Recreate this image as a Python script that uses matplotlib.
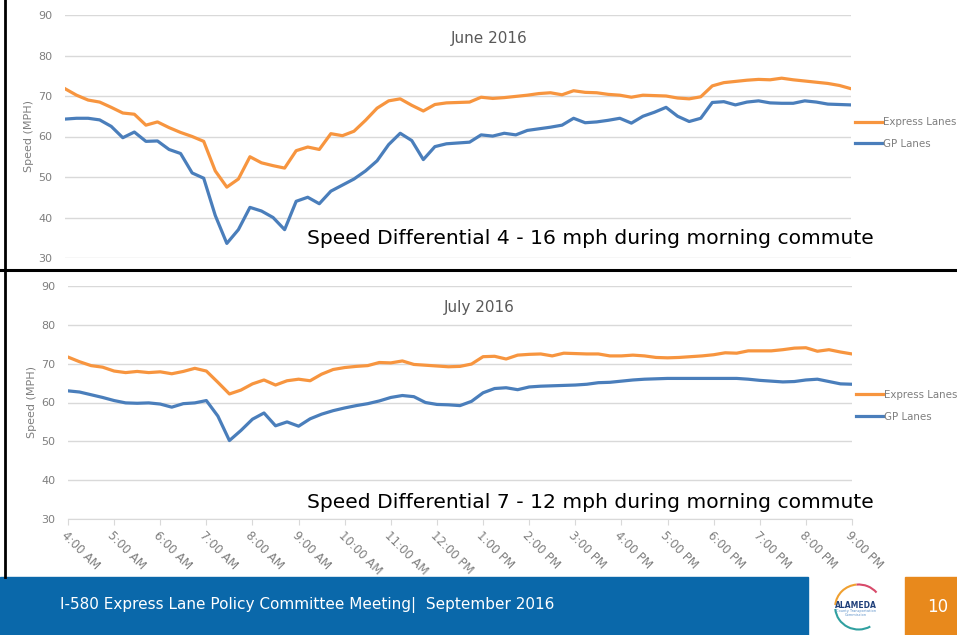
import numpy as np
import matplotlib
matplotlib.use("Agg")
import matplotlib.pyplot as plt
from matplotlib.patches import Rectangle, Arc
from matplotlib.lines import Line2D

# speeds read every 15 minutes, 4:00 AM .. 9:00 PM
express_june = [71.8, 70.2, 69.0, 68.5, 67.2, 65.8, 65.5, 62.8, 63.6, 62.2,
                61.0, 60.0, 58.8, 51.5, 47.5, 49.5, 55.0, 53.5, 52.8, 52.2,
                56.5, 57.4, 56.8, 60.7, 60.2, 61.3, 64.0, 67.0, 68.8, 69.3,
                67.7, 66.3, 67.9, 68.3, 68.4, 68.5, 69.7, 69.4, 69.6, 69.9,
                70.2, 70.6, 70.8, 70.3, 71.3, 70.9, 70.8, 70.4, 70.2, 69.7,
                70.2, 70.1, 70.0, 69.5, 69.3, 69.8, 72.5, 73.3, 73.6, 73.9,
                74.1, 74.0, 74.4, 74.0, 73.7, 73.4, 73.1, 72.6, 71.8]
gp_june = [64.3, 64.5, 64.5, 64.1, 62.5, 59.7, 61.1, 58.8, 58.9, 56.8,
           55.8, 51.0, 49.7, 40.5, 33.6, 37.0, 42.5, 41.6, 40.0, 37.0,
           44.0, 45.0, 43.4, 46.5, 48.0, 49.5, 51.5, 54.0, 58.0, 60.8,
           59.0, 54.3, 57.5, 58.2, 58.4, 58.6, 60.4, 60.1, 60.8, 60.4,
           61.5, 61.9, 62.3, 62.8, 64.5, 63.4, 63.6, 64.0, 64.5, 63.3,
           65.0, 66.0, 67.2, 65.0, 63.7, 64.5, 68.4, 68.6, 67.8, 68.5,
           68.8, 68.3, 68.2, 68.2, 68.8, 68.5, 68.0, 67.9, 67.8]
express_july = [71.7, 70.5, 69.5, 69.1, 68.1, 67.7, 68.0, 67.7, 67.9, 67.4,
                68.0, 68.8, 68.1, 65.2, 62.2, 63.2, 64.8, 65.8, 64.5, 65.6,
                66.0, 65.6, 67.3, 68.5, 69.0, 69.3, 69.5, 70.3, 70.2, 70.7,
                69.8, 69.6, 69.4, 69.2, 69.3, 69.9, 71.8, 71.9, 71.2, 72.2,
                72.4, 72.5, 72.0, 72.7, 72.6, 72.5, 72.5, 72.0, 72.0, 72.2,
                72.0, 71.6, 71.5, 71.6, 71.8, 72.0, 72.3, 72.8, 72.7, 73.3,
                73.3, 73.3, 73.6, 74.0, 74.1, 73.2, 73.6, 73.0, 72.5]
gp_july = [63.0, 62.7, 62.0, 61.3, 60.5, 59.9, 59.8, 59.9, 59.6, 58.8,
           59.7, 59.9, 60.5, 56.5, 50.2, 52.8, 55.7, 57.3, 54.0, 55.0,
           53.9, 55.8, 57.0, 57.9, 58.6, 59.2, 59.7, 60.4, 61.3, 61.8,
           61.5, 60.0, 59.5, 59.4, 59.2, 60.3, 62.5, 63.6, 63.8, 63.3,
           64.0, 64.2, 64.3, 64.4, 64.5, 64.7, 65.1, 65.2, 65.5, 65.8,
           66.0, 66.1, 66.2, 66.2, 66.2, 66.2, 66.2, 66.2, 66.2, 66.0,
           65.7, 65.5, 65.3, 65.4, 65.8, 66.0, 65.4, 64.8, 64.7]

hour_labels = ["4:00 AM", "5:00 AM", "6:00 AM", "7:00 AM", "8:00 AM", "9:00 AM",
               "10:00 AM", "11:00 AM", "12:00 PM", "1:00 PM", "2:00 PM", "3:00 PM",
               "4:00 PM", "5:00 PM", "6:00 PM", "7:00 PM", "8:00 PM", "9:00 PM"]

ORANGE = "#f7953f"
BLUE = "#4a7ebb"
GRID = "#d9d9d9"
TXT = "#7f7f7f"

fig = plt.figure(figsize=(9.57, 6.35), dpi=100)
W, H = 957.0, 635.0


def px_axes(l, t, r, b):
    return fig.add_axes([l / W, 1 - b / H, (r - l) / W, (b - t) / H])


def draw_panel(ax, express, gp, show_x, leg_y):
    x = 4 + np.arange(len(express)) / 4.0
    ax.plot(x, express, color=ORANGE, lw=2.3, solid_joinstyle="round", label="Express Lanes")
    ax.plot(x, gp, color=BLUE, lw=2.3, solid_joinstyle="round", label="GP Lanes")
    ax.set_xlim(4, 21)
    ax.set_ylim(30, 90)
    ax.set_yticks(range(30, 91, 10))
    ax.grid(axis="y", color=GRID, lw=1)
    ax.set_axisbelow(True)
    for s in ax.spines.values():
        s.set_visible(False)
    ax.tick_params(axis="y", length=0, pad=9, labelsize=8, labelcolor=TXT)
    ax.set_ylabel("Speed (MPH)", fontsize=8, color=TXT)
    ax.yaxis.set_label_coords(-0.039, 0.5)
    if show_x:
        ax.spines["bottom"].set_visible(True)
        ax.spines["bottom"].set_color(GRID)
        ax.set_xticks(range(4, 22))
        ax.set_xticklabels(hour_labels, rotation=-45, ha="left", va="top",
                           rotation_mode="anchor")
        ax.tick_params(axis="x", length=4, color=GRID, labelsize=8.5, labelcolor=TXT, pad=3)
    else:
        ax.set_xticks([])
    ax.legend(loc="center left", bbox_to_anchor=(1.005, leg_y), frameon=False,
              fontsize=7.4, labelcolor=TXT, handlelength=2.6, handletextpad=0.15,
              labelspacing=1.15, borderpad=0, borderaxespad=0)
    return ax


ax1 = px_axes(65, 15, 851, 258)
draw_panel(ax1, express_june, gp_june, False, 0.514)
ax2 = px_axes(68, 286, 852, 519)
draw_panel(ax2, express_july, gp_july, True, 0.485)

fig.text(489 / W, 1 - 38 / H, "June 2016", fontsize=11, color="#595959", ha="center", va="center")
fig.text(479 / W, 1 - 308 / H, "July 2016", fontsize=11, color="#595959", ha="center", va="center")

fig.text(307 / W, 1 - 238 / H, "Speed Differential 4 - 16 mph during morning commute",
         fontsize=14.6, color="black", va="center", ha="left")
fig.text(307 / W, 1 - 502 / H, "Speed Differential 7 - 12 mph during morning commute",
         fontsize=14.6, color="black", va="center", ha="left")

# slide frame lines
fig.add_artist(Line2D([5 / W, 5 / W], [1, 1 - 577 / H], color="black", lw=2))
fig.add_artist(Line2D([0, 1], [1 - 270 / H, 1 - 270 / H], color="black", lw=2.2))

# footer
fig.add_artist(Rectangle((0, 0), 808 / W, 58 / H, color="#0a68aa", transform=fig.transFigure))
fig.add_artist(Rectangle((905 / W, 0), 52 / W, 58 / H, color="#e8891c", transform=fig.transFigure))
fig.text(60 / W, 1 - 605 / H, "I-580 Express Lane Policy Committee Meeting|  September 2016",
         fontsize=11, color="white", va="center", ha="left",
         family=["Liberation Sans Narrow", "DejaVu Sans"])
fig.text(938 / W, 1 - 607 / H, "10", fontsize=12, color="white", va="center", ha="center")

# logo
fig.text(856 / W, 1 - 605 / H, "ALAMEDA", fontsize=5.5, weight="bold", color="#1f3f7a",
         ha="center", va="center")
fig.text(856 / W, 1 - 613 / H, "County Transportation\nCommission", fontsize=2.5,
         color="#5a8fc8", ha="center", va="center", linespacing=1.0)
logo = fig.add_axes([830 / W, 1 - 632 / H, 52 / W, 50 / H])
logo.set_xlim(-1, 1)
logo.set_ylim(-1, 1)
logo.axis("off")
logo.add_patch(Arc((0.1, 0.0), 1.8, 1.8, theta1=95, theta2=175, color="#f0a030", lw=1.5))
logo.add_patch(Arc((0.1, 0.0), 1.8, 1.8, theta1=40, theta2=95, color="#d84a6a", lw=1.5))
logo.add_patch(Arc((0.1, 0.0), 1.8, 1.8, theta1=185, theta2=300, color="#30a0a0", lw=1.5))

fig.savefig("out.png", dpi=100)
